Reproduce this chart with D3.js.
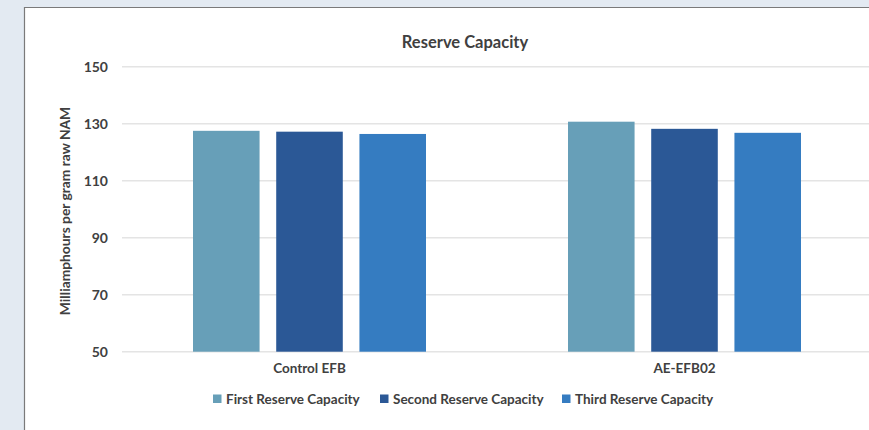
<!DOCTYPE html>
<html>
<head>
<meta charset="utf-8">
<script src="https://cdn.jsdelivr.net/npm/d3@7"></script>
<style>
  html, body { margin: 0; padding: 0; background: #e3eaf2; overflow: hidden; }
  svg { display: block; }
  text { font-family: Lato, "Open Sans", sans-serif; font-weight: bold; fill: #404040; }
</style>
</head>
<body>
<svg id="chart" width="869" height="430"></svg>
<script>
// Reserve capacity (mAh per gram raw NAM) for each electrode formulation
const categories = ["Control EFB", "AE-EFB02"];
const seriesNames = ["First Reserve Capacity", "Second Reserve Capacity", "Third Reserve Capacity"];
const firstReserve  = [127.5, 130.7];
const secondReserve = [127.2, 128.2];
const thirdReserve  = [126.4, 126.8];
const yTicks = [50, 70, 90, 110, 130, 150];
const seriesColors = ["#679fb8", "#2b5896", "#357cc1"];

const seriesValues = [firstReserve, secondReserve, thirdReserve];

const svg = d3.select("#chart");
const W = 869, H = 430;

// white panel running off the right and bottom edges, framed on the left and top
svg.append("rect")
  .attr("x", 24).attr("y", 7)
  .attr("width", W - 24).attr("height", H - 7)
  .attr("fill", "#ffffff");
svg.append("path")
  .attr("d", `M24.5,${H} V7.5 H${W}`)
  .attr("fill", "none")
  .attr("stroke", "#7a7a7a").attr("stroke-width", 1.2);

const plot = { left: 122, right: 872, top: 66.7, bottom: 351.7 };

const y = d3.scaleLinear().domain([50, 150]).range([plot.bottom, plot.top]);
const x0 = d3.scaleBand().domain(categories).range([plot.left, plot.right]).paddingInner(0).paddingOuter(0);
// inner scale for the three bars inside each category
const groupWidth = 233;
const x1 = d3.scaleBand().domain(seriesNames).range([0, groupWidth]).paddingInner(0.2).paddingOuter(0);

// gridlines
const grid = svg.append("g").attr("class", "grid");
grid.selectAll("line")
  .data(yTicks)
  .join("line")
  .attr("x1", plot.left).attr("x2", W)
  .attr("y1", d => y(d)).attr("y2", d => y(d))
  .attr("stroke", "#e4e4e4").attr("stroke-width", 1.4);

// y axis labels
const yAxis = d3.axisLeft(y).tickValues(yTicks).tickSize(0).tickPadding(0);
const yg = svg.append("g").attr("transform", `translate(108,0)`).call(yAxis);
yg.select(".domain").remove();
yg.selectAll("text")
  .attr("font-size", 14)
  .attr("font-family", "Lato, sans-serif")
  .attr("font-weight", "bold")
  .attr("fill", "#404040")
  .attr("dy", "0.35em");

// bars
const groups = svg.append("g").selectAll("g")
  .data(categories)
  .join("g")
  .attr("transform", d => `translate(${x0(d) + (x0.bandwidth() - groupWidth) / 2},0)`);

groups.selectAll("rect")
  .data((c, ci) => seriesNames.map((s, si) => ({ s, si, v: seriesValues[si][ci] })))
  .join("rect")
  .attr("x", d => x1(d.s))
  .attr("width", x1.bandwidth())
  .attr("y", d => y(d.v))
  .attr("height", d => y(50) - y(d.v))
  .attr("fill", d => seriesColors[d.si]);

// category axis labels
const xAxis = d3.axisBottom(x0).tickSize(0).tickPadding(0);
const xg = svg.append("g").attr("transform", `translate(0,${plot.bottom + 12})`).call(xAxis);
xg.select(".domain").remove();
xg.selectAll("text")
  .attr("font-size", 13.5)
  .attr("font-family", "Lato, sans-serif")
  .attr("font-weight", "bold")
  .attr("fill", "#404040");

// title
svg.append("text")
  .attr("x", 465).attr("y", 47.5)
  .attr("text-anchor", "middle")
  .attr("font-size", 16.5)
  .text("Reserve Capacity");

// y axis title
svg.append("text")
  .attr("transform", "translate(70,211) rotate(-90)")
  .attr("text-anchor", "middle")
  .attr("font-size", 13.8)
  .text("Milliamphours per gram raw NAM");

// legend
const legendX = [213, 380, 562];
const legend = svg.append("g").selectAll("g")
  .data(seriesNames)
  .join("g")
  .attr("transform", (d, i) => `translate(${legendX[i]},399)`);
legend.append("rect")
  .attr("x", 0).attr("y", -4.5)
  .attr("width", 8.5).attr("height", 8.5)
  .attr("fill", (d, i) => seriesColors[i]);
legend.append("text")
  .attr("x", 13).attr("y", 0)
  .attr("dy", "0.35em")
  .attr("font-size", 13.5)
  .text(d => d);
</script>
</body>
</html>
